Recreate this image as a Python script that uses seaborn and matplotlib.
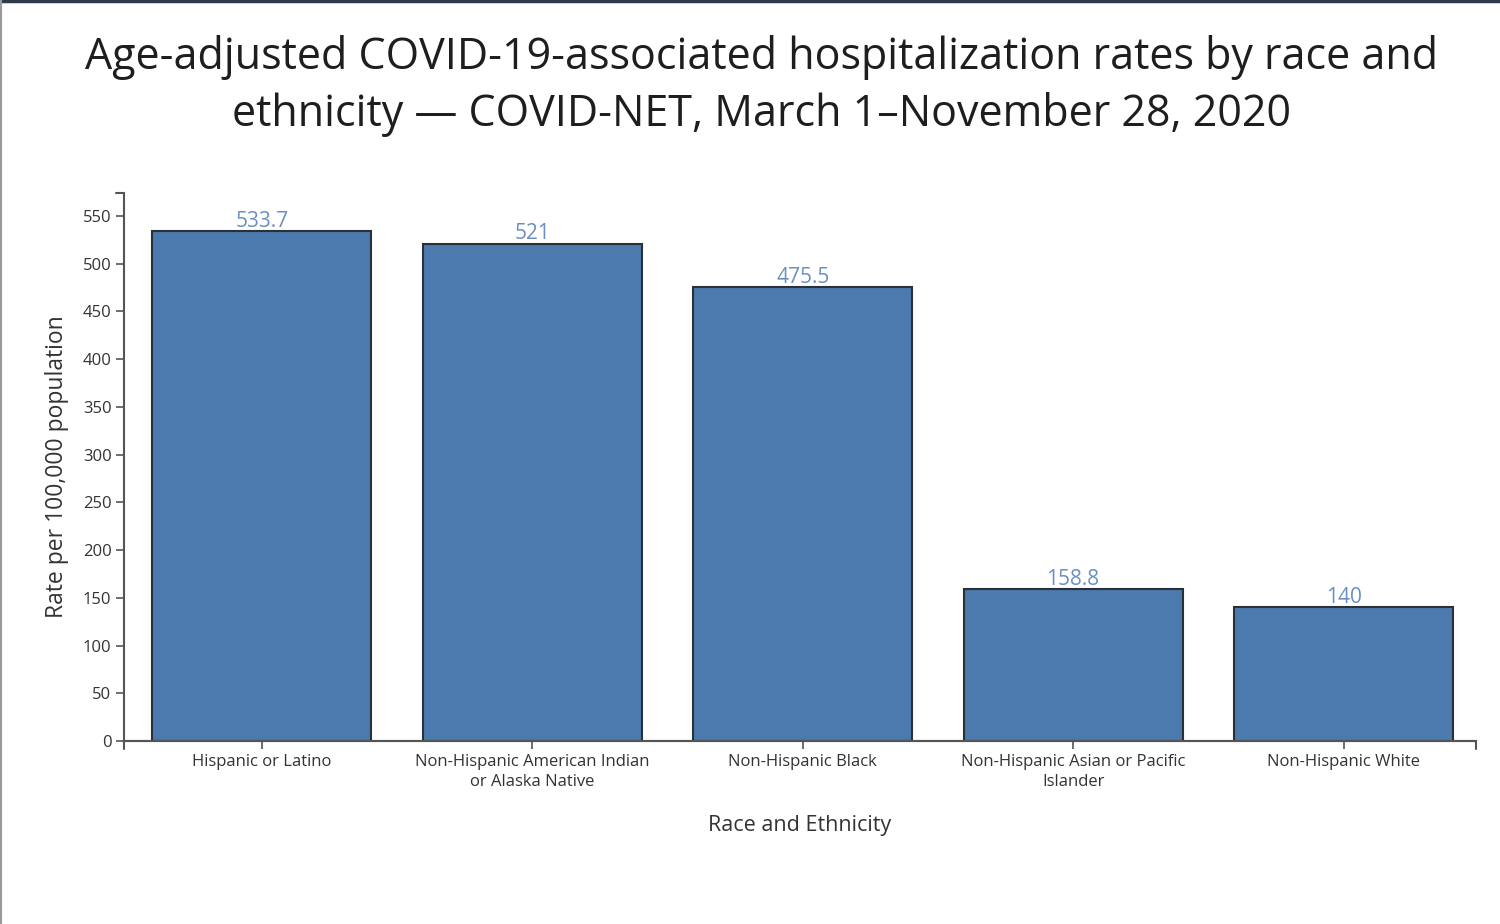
import matplotlib
matplotlib.use("Agg")
import matplotlib.pyplot as plt
import seaborn as sns
import pandas as pd
from matplotlib.lines import Line2D

categories = ["Hispanic or Latino",
              "Non-Hispanic American Indian\nor Alaska Native",
              "Non-Hispanic Black",
              "Non-Hispanic Asian or Pacific\nIslander",
              "Non-Hispanic White"]
rates = [533.7, 521, 475.5, 158.8, 140]
value_labels = ["533.7", "521", "475.5", "158.8", "140"]
yticks = [0, 50, 100, 150, 200, 250, 300, 350, 400, 450, 500, 550]

sns.set_theme(style="white")
plt.rcParams['font.family'] = ['Open Sans', 'DejaVu Sans']

df = pd.DataFrame({"cat": categories, "rate": rates})

fig = plt.figure(figsize=(15, 9.24), dpi=100)
ax = fig.add_axes([124/1500, (924-741)/924, (1476-124)/1500, (741-193)/924])

sns.barplot(data=df, x="cat", y="rate", ax=ax, color="#4a7aae", saturation=1,
            width=0.81, edgecolor="#2b2f36", linewidth=1.5)

ax.set_xlim(-0.51, 4.49)
ax.set_ylim(0, 574)
ax.set_yticks(yticks)
ax.set_yticklabels([str(t) for t in yticks], fontsize=12, color="#333333")
ax.set_xticks(range(len(categories)))
ax.set_xticklabels(categories, fontsize=12, color="#333333", linespacing=1.35)

for s in ["top", "right"]:
    ax.spines[s].set_visible(False)
for s in ["left", "bottom"]:
    ax.spines[s].set_color("#555555")
    ax.spines[s].set_linewidth(1.5)
ax.tick_params(axis="both", which="both", length=6, width=1.2, color="#555555",
               left=True, bottom=True, pad=3)

# outer end ticks (d3-style domain)
ax.add_line(Line2D([0, 0], [0, -0.015], transform=ax.transAxes, color="#555555",
                   lw=1.5, clip_on=False))
ax.add_line(Line2D([1, 1], [0, -0.015], transform=ax.transAxes, color="#555555",
                   lw=1.5, clip_on=False))
ax.add_line(Line2D([0, 1], [0, 0], transform=ax.transAxes, color="#555555",
                   lw=1.5, clip_on=False))
ax.add_line(Line2D([-0.006, 0], [1, 1], transform=ax.transAxes, color="#555555",
                   lw=1.5, clip_on=False))

for i, (v, lab) in enumerate(zip(rates, value_labels)):
    ax.annotate(lab, (i, v), xytext=(0, -0.5), textcoords="offset points",
                ha="center", va="bottom", fontsize=15, color="#6b8fc2")

ax.set_xlabel("Race and Ethnicity", fontsize=15.5, color="#333333", labelpad=18)
ax.set_ylabel("Rate per 100,000 population", fontsize=16.5, color="#333333", labelpad=10)

fig.text(762/1500, 1 - 86/924,
         "Age-adjusted COVID-19-associated hospitalization rates by race and\n"
         "ethnicity — COVID-NET, March 1–November 28, 2020",
         ha="center", va="center", fontsize=31, color="#1e1e1e", linespacing=1.38)

# frame border lines
fig.add_artist(Line2D([0, 1], [1 - 1/924, 1 - 1/924], transform=fig.transFigure,
                      color="#2f3a4a", lw=2.5))
fig.add_artist(Line2D([1/1500, 1/1500], [0, 1], transform=fig.transFigure,
                      color="#9a9a9a", lw=1.5))

fig.savefig("out.png", dpi=100)
